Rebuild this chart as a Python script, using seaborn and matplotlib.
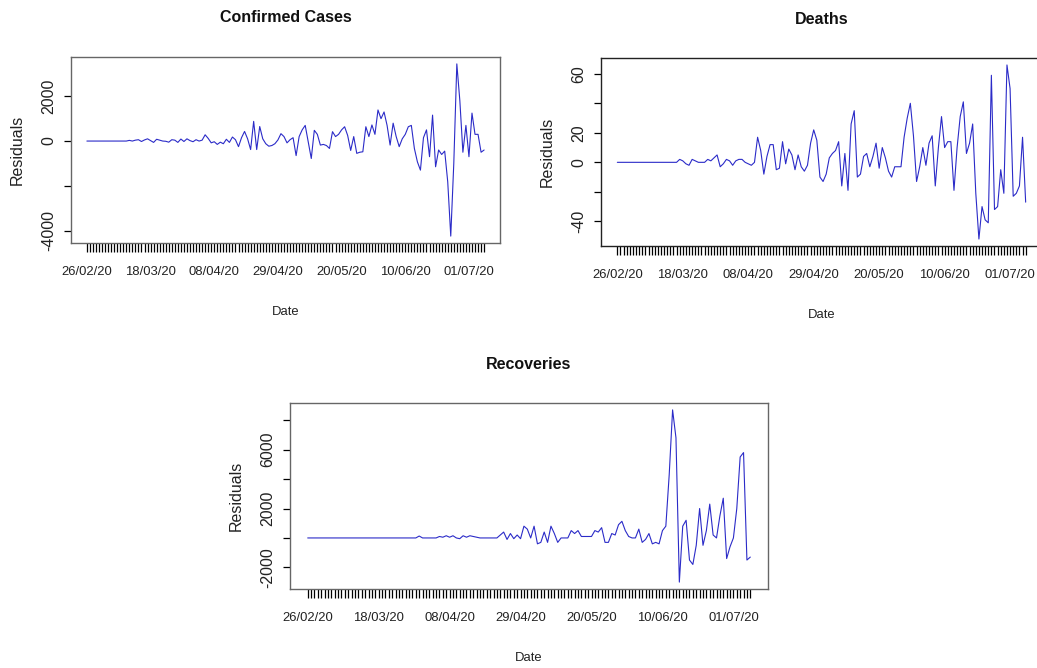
import numpy as np
import pandas as pd
import matplotlib
matplotlib.use("Agg")
import matplotlib.pyplot as plt
import seaborn as sns
from matplotlib import font_manager

# residuals, one value per day from 26/02/20
start_date = "2020-02-26"
confirmed = [0, 0, 0, 0, 0, 0, 0, 0, 0, 0, 0, 0,
             0, 0, 30, 0, 40, 60, -20, 50, 100, 20, -60, 80, 40, 0, -10, -50, 60, 40,
             -60, 90, -20, 100, 20, -30, 60, 0, 40,
             280, 120, -80, -30, -150, -50, -120, 80, -60, 180, 60,
             -250, 150, 430, 100, -380, 880, -380, 650, 100, -120,
             -230, -200, -120, 50, 330, 200, -80, 60, 150, -650,
             200, 500, 700, -50, -780, 480, 300, -180, -150, -200,
             -330, 420, 200, 300, 500, 640, 250, -420, 200, -550,
             -500, -480, 640, 200, 720, 300, 1390, 1000, 1300, 700,
             -180, 800, 200, -250, 100, 300, 640, 700, -330, -930,
             -1300, 150, 500, -700, 1160, -1150, -400, -600, -450, -1820,
             -4250, -1000, 3450, 1800, -500, 700, -700, 1250, 300, 300, -500, -400]
deaths = [0, 0, 0, 0, 0, 0, 0, 0, 0, 0, 0, 0, 0, 0, 0, 0, 0, 0, 0, 0,
          2, 1, -1, -2, 2, 1, 0, 0, 0, 2, 1, 3, 5, -3, -1, 2, 1, -2, 1, 2, 2, 0, -1, -2, 0,
          17, 8, -8, 4, 12, 12, -5, -4, 14, -1,
          9, 5, -5, 5, -3, -6, -2, 13, 22, 15,
          -10, -13, -8, 3, 6, 8, 14, -16, 6, -19,
          26, 35, -10, -8, 4, 6, -3, 4, 13, -4,
          10, 3, -6, -10, -3, -3, -3, 17, 30, 40,
          18, -13, -3, 10, -2, 13, 18, -16, 10, 31,
          10, 14, 14, -19, 10, 31, 41, 6, 13, 26,
          -21, -52, -30, -39, -41, 59, -32, -30, -5, -21,
          66, 50, -23, -21, -16, 17, -27]
recoveries = [0, 0, 0, 0, 0, 0, 0, 0, 0, 0, 0, 0, 0, 0, 0, 0, 0, 0, 0, 0,
              0, 0, 0, 0, 0, 0, 0, 0, 0, 0, 0, 0, 0,
              130, 0, 0, 0, 0, 0,
              100, 50, 150, 50, 150, 0, -50, 150, 50, 150, 100, 50, 0,
              0, 0, 0, 0, 0,
              200, 400, -100, 300, -50, 200, -50, 800, 600, 0,
              800, -400, -300, 400, -300, 800, 300, -300, 0, 0,
              0, 500, 300, 500, 100, 100, 100, 100, 500, 400,
              700, -300, -300, 300, 200, 900, 1130, 500, 100, 0,
              0, 600, -300, -100, 300, -400, -300, -400, 500, 800,
              4300, 8700, 6800, -3000, 800, 1200, -1500, -1800, -500, 2000,
              -500, 500, 2300, 200, 0, 1500, 2700, -1400, -600, 0,
              2000, 5500, 5800, -1500, -1300]

panel_titles = ["Confirmed Cases", "Deaths", "Recoveries"]
yticks_conf = [-4000, -2000, 0, 2000]
ylabels_conf = ["-4000", "", "0", "2000"]
yticks_death = [-40, -20, 0, 20, 40, 60]
ylabels_death = ["-40", "", "0", "20", "", "60"]
yticks_rec = [-2000, 0, 2000, 4000, 6000, 8000]
ylabels_rec = ["-2000", "", "2000", "", "6000", ""]

dates = pd.date_range(start_date, periods=len(confirmed), freq="D")
frames = []
for name, vals in zip(panel_titles, [confirmed, deaths, recoveries]):
    frames.append(pd.DataFrame({"date": dates, "day": np.arange(len(dates)),
                                "series": name, "value": vals}))
df = pd.concat(frames, ignore_index=True)

sns.set_style("white")
names = {f.name for f in font_manager.fontManager.ttflist}
narrow = "Liberation Sans Narrow" in names
hfam = "Liberation Sans Narrow" if narrow else "Liberation Sans"
hsize = 11.5 if narrow else 9.4
tsize = 13.8 if narrow else 11.5
vfam = "Liberation Sans"
vsize = 11.5
TXT = "#222222"
LINE = "#2b2bc8"

W, H = 1037, 668
fig = plt.figure(figsize=(W / 100, H / 100), dpi=100)
fig.patch.set_facecolor("white")

# box of each panel in pixels: left, top, right, bottom
layout = [
    ("Confirmed Cases", (71, 57, 500, 243), yticks_conf, ylabels_conf, "#666666"),
    ("Deaths", (601, 58, 1042, 246), yticks_death, ylabels_death, "#222222"),
    ("Recoveries", (290, 403, 768, 589), yticks_rec, ylabels_rec, "#666666"),
]

xlabels = [d.strftime("%d/%m/%y") if i % 21 == 0 else "" for i, d in enumerate(dates)]
n = len(dates)

for name, (l, t, r, b), yt, yl, edge in layout:
    w, h = r - l, b - t
    ax = fig.add_axes([l / W, 1 - b / H, w / W, h / H])
    sub = df[df["series"] == name]
    sns.lineplot(data=sub, x="day", y="value", ax=ax, color=LINE, linewidth=0.8)

    pad = 0.04 * (n - 1)
    ax.set_xlim(-pad, n - 1 + pad)
    lo, hi = sub["value"].min(), sub["value"].max()
    ax.set_ylim(lo - 0.04 * (hi - lo), hi + 0.04 * (hi - lo))

    ax.set_xticks(sub["day"])
    ax.set_xticklabels(xlabels, family=hfam, fontsize=hsize, color=TXT)
    ax.tick_params(axis="x", bottom=True, length=6.5, width=0.9, pad=10, color="black")
    ax.set_yticks(yt)
    ax.set_yticklabels(yl, rotation=90, va="center", family=vfam, fontsize=vsize, color=TXT)
    ax.tick_params(axis="y", left=True, length=5, width=0.9, pad=5.4, color="black")
    for sp in ax.spines.values():
        sp.set_visible(True)
        sp.set_color(edge)
        sp.set_linewidth(1.0)
    ax.set_xlabel("")
    ax.set_ylabel("")

    ax.text(0.5, 1 + 39 / h, name, transform=ax.transAxes, ha="center", va="center",
            family=hfam, fontsize=tsize, fontweight="bold", color="#111111")
    ax.text(0.5, -69 / h, "Date", transform=ax.transAxes, ha="center", va="center",
            family=hfam, fontsize=hsize, color=TXT)
    ax.text(-54 / w, 0.5, "Residuals", transform=ax.transAxes, rotation=90,
            ha="center", va="center", family=vfam, fontsize=vsize, color=TXT)

fig.savefig("out.png", dpi=100, facecolor="white")
